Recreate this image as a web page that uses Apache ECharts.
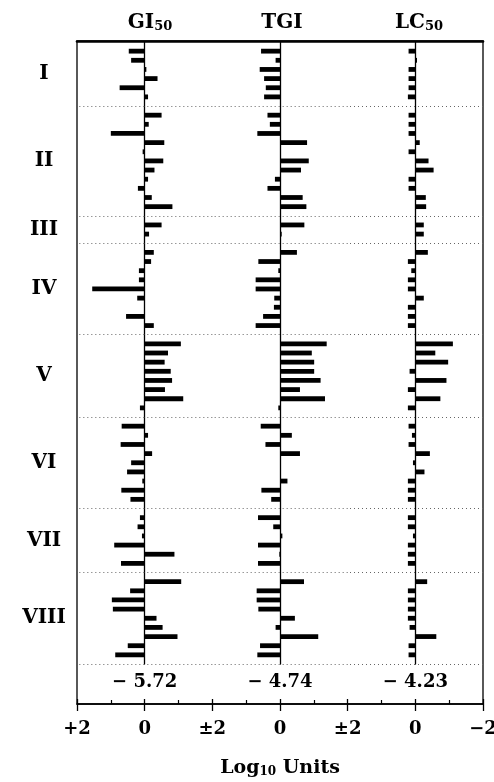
<!DOCTYPE html>
<html><head><meta charset="utf-8">
<script src="https://cdn.jsdelivr.net/npm/echarts@6/dist/echarts.min.js"></script>
<style>html,body{margin:0;padding:0;background:#fff}#c{width:494px;height:782px}</style>
</head><body><div id="c"></div>
<script>
// ---- data ----
const groupNames = ['I','II','III','IV','V','VI','VII','VIII'];
const groupSizes = [6, 11, 2, 9, 8, 9, 6, 9];
const panelTitles = [['GI','50'], ['TGI',''], ['LC','50']];
const meanValues = ['\u2212 5.72', '\u2212 4.74', '\u2212 4.23'];
const tickLabels = ['+2', '0', '\u00b12', '0', '\u00b12', '0', '\u22122'];
// deviation from mean (log10 units); positive drawn to the left
const gi50 = [
  0.47, 0.40, -0.05, -0.38, 0.74, -0.10,
  -0.50, -0.12, 1.00, -0.58, 0.06, -0.55, -0.29, -0.10, 0.20, -0.21, -0.82,
  -0.50, -0.13,
  -0.27, -0.19, 0.17, 0.17, 1.55, 0.22, 0, 0.55, -0.27,
  -1.07, -0.69, -0.59, -0.77, -0.81, -0.60, -1.14, 0.14,
  0.68, -0.10, 0.71, -0.22, 0.40, 0.52, 0.07, 0.69, 0.42,
  0.14, 0.21, 0.08, 0.90, -0.88, 0.70,
  -1.08, 0.43, 0.97, 0.94, -0.35, -0.53, -0.97, 0.50, 0.87
];
const tgi = [
  0.56, 0.13, 0.60, 0.47, 0.42, 0.47,
  0.37, 0.30, 0.67, -0.80, 0, -0.85, -0.62, 0.15, 0.37, -0.67, -0.78,
  -0.72, -0.05,
  -0.50, 0.64, 0.05, 0.72, 0.72, 0.17, 0.18, 0.50, 0.72,
  -1.38, -0.94, -1.01, -1.01, -1.20, -0.59, -1.33, 0.05,
  0.57, -0.35, 0.43, -0.59, 0, 0, -0.22, 0.55, 0.26,
  0.65, 0.20, -0.07, 0.65, 0.02, 0.65,
  -0.71, 0.69, 0.69, 0.64, -0.44, 0.13, -1.13, 0.59, 0.67
];
const lc50 = [
  0.20, -0.05, 0.20, 0.20, 0.20, 0.22,
  0.20, 0.20, 0.20, -0.13, 0.20, -0.39, -0.54, 0.20, 0.20, -0.31, -0.32,
  -0.25, -0.25,
  -0.37, 0.22, 0.12, 0.22, 0.22, -0.25, 0.22, 0.22, 0.22,
  -1.11, -0.59, -0.97, 0.17, -0.92, 0.22, -0.74, 0.22,
  0.20, 0.10, 0.20, -0.43, 0.07, -0.27, 0.22, 0.22, 0.22,
  0.22, 0.22, 0.07, 0.22, 0.22, 0.22,
  -0.35, 0.22, 0.22, 0.22, 0.22, 0.17, -0.62, 0.20, 0.20
];

// ---- build category rows (blank top row, groups, separator rows) ----
const categories = ['top'];
const rowIndexOfLine = [];
const sepIndices = [];
const groupCenters = [];
groupNames.forEach((g, gi) => {
  const start = categories.length;
  for (let j = 0; j < groupSizes[gi]; j++) {
    rowIndexOfLine.push(categories.length);
    categories.push(g + '-' + (j + 1));
  }
  groupCenters.push(start + (groupSizes[gi] - 1) / 2);
  sepIndices.push(categories.length);
  categories.push('sep' + gi);
});
function rowData(vals) {
  const d = categories.map(() => '-');
  vals.forEach((v, i) => { d[rowIndexOfLine[i]] = v; });
  return d;
}
const panels = [gi50, tgi, lc50];

// ---- layout ----
const FONT = 'DejaVu Serif';
const frameL = 77, frameR = 483, frameT = 41, frameB = 704, panelB = 664;
const pw = (frameR - frameL) / 3;

const grids = [0, 1, 2].map(i => ({
  left: frameL + i * pw, width: pw, top: 42, height: panelB - 42,
  containLabel: false, outerBoundsMode: 'none'
}));
grids.push({ left: frameL, width: frameR - frameL, top: frameT, height: frameB - frameT,
  containLabel: false, outerBoundsMode: 'none',
  show: true, borderColor: '#000', borderWidth: 1.3, backgroundColor: 'transparent' });

const xAxes = [0, 1, 2].map(i => ({
  type: 'value', gridIndex: i, min: -2, max: 2, inverse: true,
  axisLine: { show: false }, axisTick: { show: false }, axisLabel: { show: false },
  splitLine: { show: false },
  name: meanValues[i], nameLocation: 'middle', nameGap: 9,
  nameTextStyle: { fontFamily: FONT, fontWeight: 'bold', fontSize: 18, color: '#000' }
}));
xAxes.push({
  type: 'value', gridIndex: 3, position: 'bottom', min: 0, max: 12, interval: 2,
  axisLine: { show: true, lineStyle: { color: '#000', width: 1.5 } },
  axisTick: { show: true, inside: true, length: 5, lineStyle: { color: '#000', width: 1.3 } },
  minorTick: { show: true, splitNumber: 2, length: 4, lineStyle: { color: '#000', width: 1.2 } },
  splitLine: { show: false }, minorSplitLine: { show: false },
  axisLabel: { formatter: v => tickLabels[Math.round(v / 2)], fontFamily: FONT, fontWeight: 'bold',
    fontSize: 18, color: '#000', margin: 16 },
  name: '{m|Log}{s|10}{m| Units}', nameLocation: 'middle', nameGap: 52,
  nameTextStyle: { rich: {
    m: { fontFamily: FONT, fontWeight: 'bold', fontSize: 19, color: '#000', lineHeight: 22, verticalAlign: 'bottom' },
    s: { fontFamily: FONT, fontWeight: 'bold', fontSize: 12, color: '#000', lineHeight: 12, verticalAlign: 'bottom' }
  } }
});
xAxes.push({
  type: 'value', gridIndex: 3, position: 'bottom', min: 0, max: 12, interval: 2,
  axisLine: { show: false }, axisLabel: { show: false }, splitLine: { show: false },
  axisTick: { show: true, inside: false, length: 7, lineStyle: { color: '#000', width: 1.3 } }
});
xAxes.push({
  type: 'value', gridIndex: 3, position: 'top', min: 0, max: 12,
  axisLine: { show: true, lineStyle: { color: '#000', width: 2.6 } },
  axisTick: { show: false }, axisLabel: { show: false }, splitLine: { show: false }
});

const yAxes = [0, 1, 2].map(i => ({
  type: 'category', gridIndex: i, data: categories, inverse: true, boundaryGap: false,
  position: 'right',
  axisLine: { show: true, onZero: true, lineStyle: { color: '#000', width: 1.3 } },
  axisTick: { show: false }, axisLabel: { show: false }, splitLine: { show: false }
}));
yAxes.push({
  type: 'value', gridIndex: 0, position: 'left', min: 0, max: categories.length - 1, inverse: true,
  axisLine: { show: false, onZero: false }, axisTick: { show: false }, splitLine: { show: false },
  axisLabel: { show: true, customValues: groupCenters, margin: 33, align: 'center',
    formatter: v => groupNames[groupCenters.indexOf(v)] || '',
    fontFamily: FONT, fontWeight: 'bold', fontSize: 20, color: '#000' }
});
yAxes.push({ type: 'value', gridIndex: 3, show: false, min: 0, max: 1 });

const titleX = [150, 282, 419];
const titles = panelTitles.map((t, i) => ({
  text: '{m|' + t[0] + '}' + (t[1] ? '{s|' + t[1] + '}' : ''),
  left: titleX[i], top: 9, textAlign: 'center', padding: 0,
  textStyle: { rich: {
    m: { fontFamily: FONT, fontWeight: 'bold', fontSize: 20, color: '#000', lineHeight: 24, verticalAlign: 'bottom' },
    s: { fontFamily: FONT, fontWeight: 'bold', fontSize: 13, color: '#000', lineHeight: 13, verticalAlign: 'bottom' }
  } }
}));

const series = panels.map((vals, i) => ({
  type: 'bar', xAxisIndex: i, yAxisIndex: i, data: rowData(vals),
  barWidth: 4.8, itemStyle: { color: '#000' }, silent: true,
  markLine: {
    silent: true, symbol: 'none', label: { show: false }, animation: false,
    lineStyle: { color: '#666', type: [1, 3], width: 1 },
    data: sepIndices.map(k => ({ yAxis: k }))
  }
}));

const chart = echarts.init(document.getElementById('c'), null, { renderer: 'canvas' });
chart.setOption({
  animation: false,
  backgroundColor: '#fff',
  title: titles,
  grid: grids,
  xAxis: xAxes,
  yAxis: yAxes,
  series: series
});
</script>
</body></html>
